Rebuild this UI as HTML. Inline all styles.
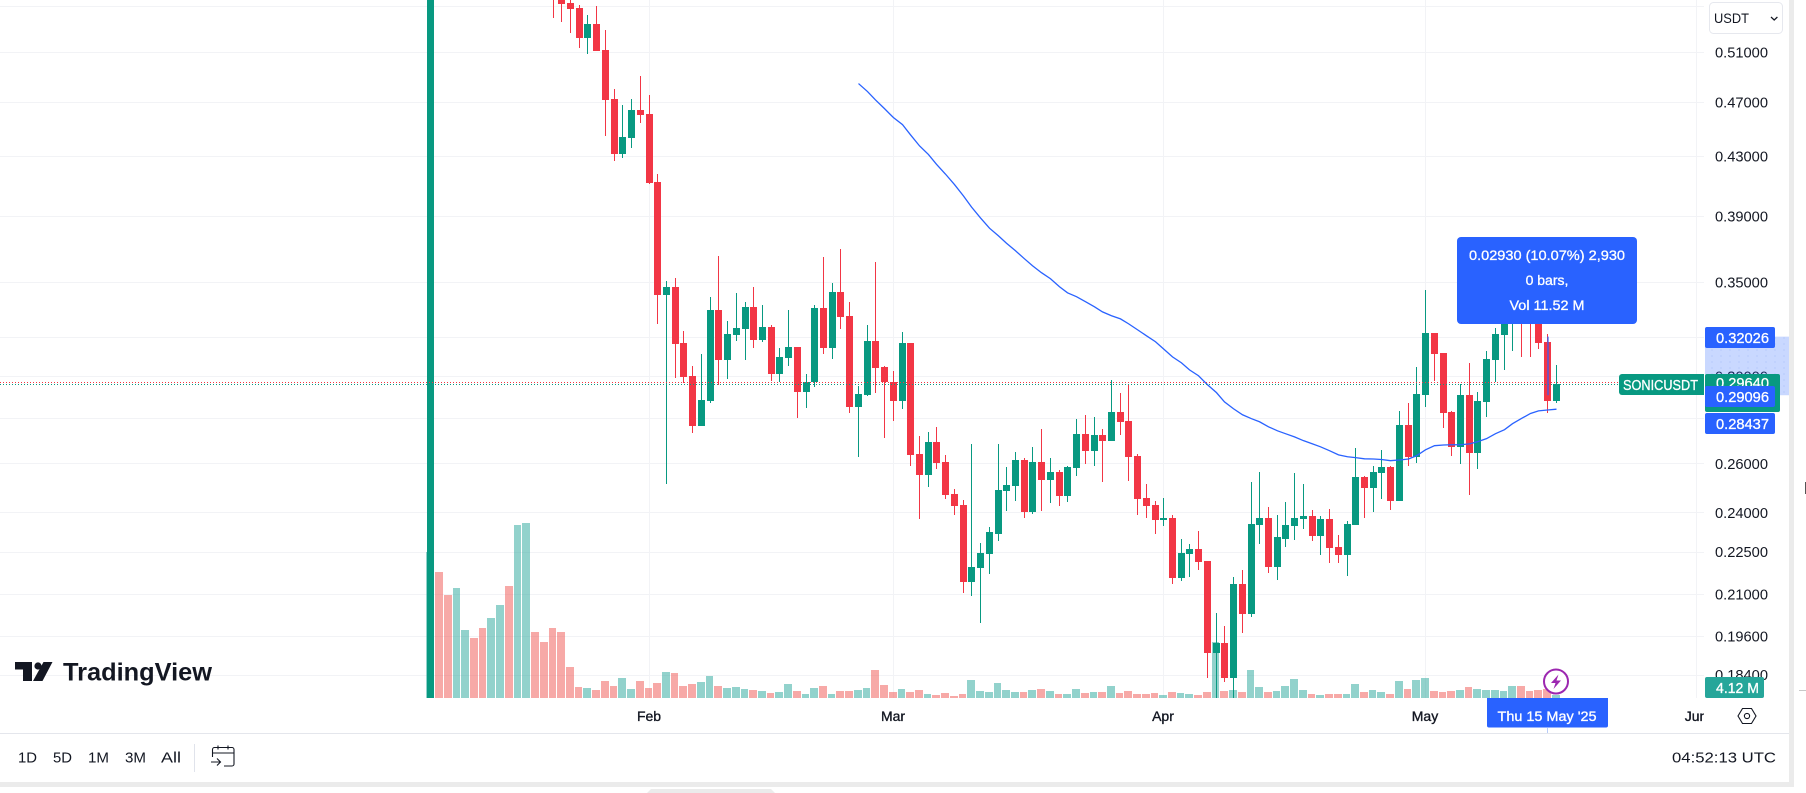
<!DOCTYPE html>
<html lang="en">
<head>
<meta charset="utf-8">
<title>SONICUSDT chart</title>
<style>
html,body{margin:0;padding:0;background:#fff;width:1806px;height:793px;overflow:hidden}
svg{display:block}
text{font-family:"Liberation Sans",sans-serif;fill:#131722}
.lbl{fill:#fff;stroke:#fff;stroke-width:0.3}
</style>
</head>
<body>
<svg id="chart" xmlns="http://www.w3.org/2000/svg" width="1806" height="793" viewBox="0 0 1806 793">
  <defs>
    <clipPath id="paneClip"><rect x="0" y="0" width="1704" height="698"/></clipPath>
    <clipPath id="junClip"><rect x="0" y="698" width="1704" height="35"/></clipPath>
    <pattern id="bandDots" width="9" height="6" patternUnits="userSpaceOnUse"><circle cx="2" cy="2" r="0.6" fill="#a9c0f7"/></pattern>
  </defs>
  <rect x="0" y="0" width="1806" height="793" fill="#fff"/>
  <g id="gridLayer"></g>
  <g id="volumeLayer" clip-path="url(#paneClip)"></g>
  <g id="candleLayer" clip-path="url(#paneClip)"></g>
  <path id="maLine" fill="none" stroke="#2962ff" stroke-width="1.3" clip-path="url(#paneClip)"/>
  <line id="prevCloseLine" x1="0" x2="1619" stroke="#f23645" stroke-width="1" stroke-dasharray="1 2"/>
  <line id="lastPriceLine" x1="0" x2="1619" stroke="#089981" stroke-width="1" stroke-dasharray="1 2"/>
  <line id="measureLine" stroke="#2962ff" stroke-width="1.2"/>

  <g>
    <path d="M15 662H32V681H23V669.5H15Z M33 681L43.500 662H52.500L42.500 681Z" fill="#131722"/>
    <circle cx="38" cy="666" r="3.600" fill="#131722"/>
    <text x="63" y="680.500" font-size="25" font-weight="700" textLength="149" lengthAdjust="spacingAndGlyphs">TradingView</text>
  </g>

  <g id="priceAxis"></g>
  <g>
    <rect x="1709.500" y="2.500" width="73" height="31" rx="4" fill="#fff" stroke="#e6e8ee"/>
    <text x="1714" y="23" font-size="14" textLength="35" lengthAdjust="spacingAndGlyphs">USDT</text>
    <path d="M1771 17l3.200 3 3.200-3" fill="none" stroke="#131722" stroke-width="1.200"/>
  </g>

  <rect id="measureBand" x="1705" width="84" fill="#2962ff" fill-opacity="0.25"/>
  <rect id="measureBandDots" x="1705" width="84" fill="url(#bandDots)"/>

  <g>
    <rect x="1705" y="374" width="75" height="38" rx="2" fill="#089981"/>
    <text class="lbl" x="1716" y="388" font-size="14.500" textLength="53" lengthAdjust="spacingAndGlyphs">0.29640</text>
  </g>
  <g>
    <path d="M1704 374H1622a3 3 0 0 0 -3 3V392a3 3 0 0 0 3 3H1704Z" fill="#089981"/>
    <text class="lbl" x="1623" y="390" font-size="14.500" textLength="75" lengthAdjust="spacingAndGlyphs">SONICUSDT</text>
  </g>
  <g>
    <rect x="1705" y="327" width="70" height="21" rx="2" fill="#2962ff"/>
    <text class="lbl" x="1716" y="343" font-size="14.500" textLength="53" lengthAdjust="spacingAndGlyphs">0.32026</text>
  </g>
  <g>
    <rect x="1705" y="386" width="70" height="21" rx="2" fill="#2962ff"/>
    <text class="lbl" x="1716" y="402" font-size="14.500" textLength="53" lengthAdjust="spacingAndGlyphs">0.29096</text>
  </g>
  <g>
    <rect x="1705" y="413" width="70" height="21" rx="2" fill="#2962ff"/>
    <text class="lbl" x="1716" y="429" font-size="14.500" textLength="53" lengthAdjust="spacingAndGlyphs">0.28437</text>
  </g>
  <g>
    <rect x="1705" y="677" width="59" height="21" rx="2" fill="#26a69a"/>
    <text class="lbl" x="1716" y="693" font-size="14.500" textLength="43" lengthAdjust="spacingAndGlyphs">4.12 M</text>
  </g>

  <g>
    <rect x="1457" y="237" width="180" height="87" rx="4" fill="#2962ff"/>
    <text class="lbl" x="1547" y="260" font-size="14" text-anchor="middle" textLength="156" lengthAdjust="spacingAndGlyphs">0.02930 (10.07%) 2,930</text>
    <text class="lbl" x="1547" y="285" font-size="14" text-anchor="middle">0 bars,</text>
    <text class="lbl" x="1547" y="310" font-size="14" text-anchor="middle" textLength="75" lengthAdjust="spacingAndGlyphs">Vol 11.52 M</text>
  </g>

  <g>
    <circle cx="1556" cy="681.500" r="12" fill="#fff" stroke="#9c27b0" stroke-width="2"/>
    <path d="M1558.500 674.500L1551 683H1555.500L1553.500 689L1561 680.500H1556.500Z" fill="#9c27b0"/>
  </g>

  <g id="timeAxis" clip-path="url(#junClip)"></g>
  <g>
    <path d="M1487 698H1608V725.500a2 2 0 0 1 -2 2H1489a2 2 0 0 1 -2 -2Z" fill="#2962ff"/>
    <text class="lbl" x="1547" y="721" font-size="14" text-anchor="middle" textLength="99" lengthAdjust="spacingAndGlyphs">Thu 15 May '25</text>
    <rect x="1547" y="728" width="1" height="5" fill="#b8ccf8"/>
  </g>
  <g>
    <path d="M1742.500 708.500H1751.500L1756 716L1751.500 723.500H1742.500L1738 716Z" fill="none" stroke="#131722" stroke-width="1.100"/>
    <circle cx="1747" cy="716" r="2.600" fill="none" stroke="#131722" stroke-width="1.100"/>
  </g>

  <rect x="0" y="733" width="1789" height="1" fill="#e4e6ec"/>
  <g>
    <text x="18" y="762.500" font-size="14.500" textLength="19" lengthAdjust="spacingAndGlyphs">1D</text>
    <text x="53" y="762.500" font-size="14.500" textLength="19" lengthAdjust="spacingAndGlyphs">5D</text>
    <text x="88" y="762.500" font-size="14.500" textLength="21" lengthAdjust="spacingAndGlyphs">1M</text>
    <text x="125" y="762.500" font-size="14.500" textLength="21" lengthAdjust="spacingAndGlyphs">3M</text>
    <text x="161" y="762.500" font-size="14.500" textLength="20" lengthAdjust="spacingAndGlyphs">All</text>
  </g>
  <rect x="194" y="744" width="1" height="28" fill="#e0e3eb"/>
  <g fill="none" stroke="#131722" stroke-width="1.100">
    <path d="M212.500 757V749.500a2 2 0 0 1 2-2H232a2 2 0 0 1 2 2V764a2 2 0 0 1-2 2H224 M212.500 753H234 M218 745.500V749.500 M228 745.500V749.500"/>
    <path d="M211 762H220.500 M217 758.500L220.500 762L217 765.500"/>
  </g>
  <text x="1672" y="762.500" font-size="14.500" textLength="104" lengthAdjust="spacingAndGlyphs">04:52:13 UTC</text>

  <rect x="1789" y="0" width="5" height="787" fill="#ebebeb"/>
  <rect x="0" y="782" width="1794" height="5" fill="#ebebeb"/>
  <path d="M647 793L651 789H771L775 793Z" fill="#ebebeb"/>
  <rect x="1799" y="690" width="7" height="1" fill="#c8c8c8"/>
  <rect x="1805" y="482" width="1" height="12" fill="#555"/>
</svg>

<script>
const opens = [.17,
.90,.82,.76,.80,.84,.78,.72,.76,.80,
.74,.78,.82,.74,.66,.57,.5531,.5486,.5223,.5344,
.5121,.4727,.4320,.4435,.4642,.4612,.4126,.3430,.3475,.3170,
.3004,.2768,.2883,.3346,.3083,.3213,.3244,.3363,.3186,.3255,
.3013,.3093,.3150,.2926,.2974,.3357,.3144,.3447,.3314,.2855,
.2912,.3181,.3048,.2974,.2883,.3170,.2644,.2555,.2696,.2609,
.2477,.2432,.2144,.2194,.2245,.2320,.2489,.2509,.2618,.2404,
.2609,.2534,.2567,.2468,.2584,.2732,.2657,.2728,.2701,.2832,
.2791,.2635,.2460,.2432,.2373,.2381,.2158,.2245,.2263,.2219,
.1909,.1940,.1832,.2137,.2035,.2354,.2381,.2198,.2301,.2350,
.2377,.2388,.2312,.2377,.2270,.2241,.2354,.2546,.2501,.2563,
.2588,.2448,.2773,.2631,.2912,.3223,.3119,.2832,.2674,.2912,
.2648,.2878,.3083,.3213,.3335,.3374,.3335,.3346,.3176,.2883];

const highs = [.98,
.94,.85,.82,.86,.86,.80,.78,.82,.82,
.80,.84,.84,.76,.68,.58,.5585,.5513,.5423,.5504,
.5292,.4805,.4680,.4727,.4908,.4758,.4181,.3509,.3527,.3234,
.3053,.3113,.3419,.3656,.3287,.3441,.3391,.3475,.3374,.3265,
.3144,.3346,.3150,.3013,.3374,.3650,.3498,.3698,.3391,.2955,
.3265,.3620,.3053,.3028,.3228,.3170,.2723,.2741,.2763,.2639,
.2497,.2452,.2687,.2286,.2346,.2687,.2588,.2652,.2627,.2674,
.2754,.2627,.2575,.2592,.2800,.2818,.2809,.2754,.2984,.2922,
.2960,.2644,.2518,.2448,.2460,.2392,.2301,.2282,.2331,.2219,
.2038,.1995,.2162,.2187,.2526,.2567,.2424,.2392,.2444,.2563,
.2518,.2412,.2388,.2416,.2316,.2369,.2670,.2550,.2592,.2661,
.2592,.2836,.2874,.3048,.3458,.3223,.3119,.2836,.2965,.3068,
.2926,.3129,.3250,.3413,.3430,.3420,.3400,.3400,.3218,.3058];

const lows = [.17,
.80,.74,.74,.78,.76,.70,.70,.74,.72,
.72,.76,.72,.64,.5397,.5362,.5266,.5138,.5088,.5113,
.4449,.4270,.4291,.4362,.4545,.4113,.3271,.2514,.2994,.2970,
.2737,.2768,.2874,.2960,.2989,.3181,.3083,.3144,.3176,.2979,
.2974,.3053,.2804,.2850,.2950,.3113,.3088,.3244,.2827,.2631,
.2907,.2922,.2714,.2790,.2846,.2592,.2377,.2505,.2579,.2456,
.2392,.2106,.2096,.2005,.2173,.2293,.2408,.2448,.2381,.2396,
.2408,.2440,.2428,.2444,.2550,.2601,.2592,.2526,.2701,.2728,
.2530,.2392,.2381,.2320,.2350,.2137,.2147,.2162,.2187,.1832,
.170,.1820,.172,.1972,.2025,.2282,.2176,.2151,.2270,.2297,
.2339,.2293,.2241,.2212,.2212,.2165,.2354,.2381,.2404,.2456,
.2412,.2448,.2592,.2605,.2855,.2979,.2759,.2635,.2601,.2473,
.2579,.2809,.2974,.3033,.3129,.3098,.3098,.3139,.2827,.2874];

const closes = [.92,
.82,.76,.80,.84,.78,.72,.76,.80,.74,
.78,.82,.74,.66,.57,.5522,.5477,.5223,.5344,.5113,
.4719,.4320,.4442,.4642,.4604,.4120,.3430,.3475,.3165,.2999,
.2768,.2888,.3346,.3083,.3218,.3250,.3363,.3186,.3255,.3013,
.3098,.3150,.2926,.2974,.3357,.3144,.3447,.3308,.2855,.2917,
.3181,.3043,.2974,.2883,.3170,.2640,.2555,.2696,.2605,.2473,
.2428,.2144,.2198,.2248,.2324,.2493,.2513,.2618,.2404,.2609,
.2534,.2567,.2468,.2588,.2732,.2657,.2728,.2701,.2832,.2786,
.2631,.2456,.2428,.2373,.2381,.2158,.2248,.2263,.2216,.1909,
.1940,.1832,.2137,.2035,.2358,.2381,.2198,.2305,.2354,.2381,
.2388,.2312,.2377,.2267,.2241,.2358,.2546,.2501,.2567,.2588,
.2448,.2773,.2631,.2917,.3223,.3113,.2827,.2674,.2912,.2648,
.2883,.3088,.3218,.3335,.3374,.3300,.3290,.3170,.2883,.2965];

const volumes = [186.9,
161.3,131.8,140.8,87.0,76.8,89.6,102.4,119.0,143.4,
221.4,224.0,84.5,71.7,89.6,84.5,39.7,14.1,12.8,10.2,
21.8,15.4,25.6,11.5,21.8,12.8,19.2,33.3,32.0,15.4,
17.9,20.5,28.2,15.4,12.8,14.1,11.5,10.2,9.0,6.4,
7.7,17.9,9.0,5.1,12.8,15.4,5.1,9.0,9.0,10.2,
12.8,35.8,16.6,7.7,11.5,7.7,10.2,5.1,3.8,6.4,
2.6,5.1,23.0,9.0,7.7,19.2,10.2,7.7,7.7,10.2,
11.5,9.0,5.1,5.1,11.5,6.4,7.7,7.7,15.4,6.4,
9.0,5.1,5.1,6.4,3.8,7.7,6.4,5.1,3.8,7.7,
71.7,9.0,10.2,7.7,35.8,14.1,7.7,9.0,15.4,24.3,
10.2,5.1,3.8,5.1,5.1,5.1,17.9,7.7,10.2,7.7,
5.1,21.8,11.5,23.0,25.6,9.0,7.7,9.0,10.2,14.1,
11.5,10.2,10.2,9.0,15.4,15.4,9.0,10.2,11.52,4.12];

const maStartIndex = 49;
const maValues = [.4847,.4784,.4719,.4652,.4584,.4532,.4457,.4377,.4315,.4247,.4179,
.4108,.4032,.3960,.3890,.3825,.3777,.3732,.3686,.3638,.3597,
.3556,.3521,.3475,.3441,.3419,.3391,.3363,.3335,.3314,.3297,
.3271,.3239,.3207,.3176,.3139,.3098,.3068,.3033,.3004,.2960,
.2922,.2878,.2846,.2818,.2800,.2786,.2763,.2745,.2732,.2718,
.2701,.2687,.2674,.2657,.2639,.2631,.2627,.2622,.2621,.2619,
.2614,.2617,.2621,.2635,.2661,.2679,.2682,.2683,.2683,.2687,
.2696,.2710,.2732,.2750,.2777,.2801,.2824,.2836,.2840,.2844];

const priceTicks = [0.55,0.51,0.47,0.43,0.39,0.35,0.32,0.30,0.28,0.26,0.24,0.225,0.21,0.196,0.184];
const hiddenAxisLabels = [0.55,0.32,0.28];
const monthLabels = ["Feb","Mar","Apr","May","Jun"];
const monthIndexes = [25,53,84,114,145];
const lastPrice = 0.2964;
const prevClose = 0.2974;
const measureFrom = 0.32026;
const measureTo = 0.29096;
const measureBarIndex = 128;

const NS = "http://www.w3.org/2000/svg";
const xScale = i => 430.9 + i * 8.725;
const yScale = p => 52.5 + Math.log(0.51 / p) * 610.7;
const volY = v => 698 - v / 1.28;
const px = i => Math.floor(xScale(i));

function mk(tag, attrs, parent) {
  const el = document.createElementNS(NS, tag);
  for (const k in attrs) el.setAttribute(k, attrs[k]);
  parent.appendChild(el);
  return el;
}

const gridLayer = document.getElementById("gridLayer");
priceTicks.forEach(p => {
  const y = Math.floor(yScale(p));
  const el = mk("rect", {x:0, y:y, width:1704, height:1, fill:"#f2f3f6"}, gridLayer);
  
  
});
monthIndexes.forEach(i => {
  const el = mk("rect", {x:px(i), y:0, width:1, height:698, fill:"#f2f3f6"}, gridLayer);
  
  
});

const volumeLayer = document.getElementById("volumeLayer");
volumes.forEach((v, i) => {
  const left = px(i) - 4;
  const right = px(i + 1) - 5;
  const top = Math.round(volY(v));
  const up = closes[i] >= opens[i];
  const el = mk("rect", {x:left, y:top, width:right - left, height:698 - top, fill: up ? "rgba(38,166,154,0.5)" : "rgba(239,83,80,0.5)"}, volumeLayer);
  
  
});

const candleLayer = document.getElementById("candleLayer");
opens.forEach((o, i) => {
  const c = closes[i];
  const up = c >= o;
  const color = up ? "#089981" : "#f23645";
  const x = px(i);
  const hi = Math.round(yScale(highs[i]));
  const lo = Math.round(yScale(lows[i]));
  const top = Math.round(yScale(Math.max(o, c)));
  const bot = Math.round(yScale(Math.min(o, c)));
  const wick = mk("rect", {x:x, y:hi, width:1, height:Math.max(1, lo - hi), fill:color}, candleLayer);
  
  
  const body = mk("rect", {x:x - 3, y:top, width:7, height:Math.max(1, bot - top), fill:color}, candleLayer);
  
  
});

document.getElementById("maLine").setAttribute("d",
  maValues.map((v, k) => (k ? "L" : "M") + (px(maStartIndex + k) + 0.5) + " " + yScale(v).toFixed(2)).join(""));

const yLast = Math.round(yScale(lastPrice)) + 0.5;
const yPrev = Math.round(yScale(prevClose)) + 0.5;
const lastLine = document.getElementById("lastPriceLine");
lastLine.setAttribute("y1", yLast);
lastLine.setAttribute("y2", yLast);
const prevLine = document.getElementById("prevCloseLine");
prevLine.setAttribute("y1", yPrev);
prevLine.setAttribute("y2", yPrev);

const mX = px(measureBarIndex) + 1;
const mLine = document.getElementById("measureLine");
mLine.setAttribute("x1", mX);
mLine.setAttribute("x2", mX);
mLine.setAttribute("y1", yScale(measureFrom));
mLine.setAttribute("y2", yScale(measureTo));
["measureBand", "measureBandDots"].forEach(id => {
  const r = document.getElementById(id);
  r.setAttribute("y", yScale(measureFrom));
  r.setAttribute("height", yScale(measureTo) - yScale(measureFrom));
});

const priceAxis = document.getElementById("priceAxis");
priceTicks.forEach(p => {
  if (hiddenAxisLabels.includes(p)) return;
  const t = mk("text", {x:1715, y:yScale(p) + 5, "font-size":14.5, textLength:53, lengthAdjust:"spacingAndGlyphs"}, priceAxis);
  
  
  t.textContent = p.toFixed(5);
});

const timeAxis = document.getElementById("timeAxis");
monthLabels.forEach((m, k) => {
  const t = mk("text", {x:px(monthIndexes[k]), y:721, "font-size":14, "text-anchor":"middle", stroke:"#131722", "stroke-width":0.35}, timeAxis);
  
  
  t.textContent = m;
});
</script>
</body>
</html>
